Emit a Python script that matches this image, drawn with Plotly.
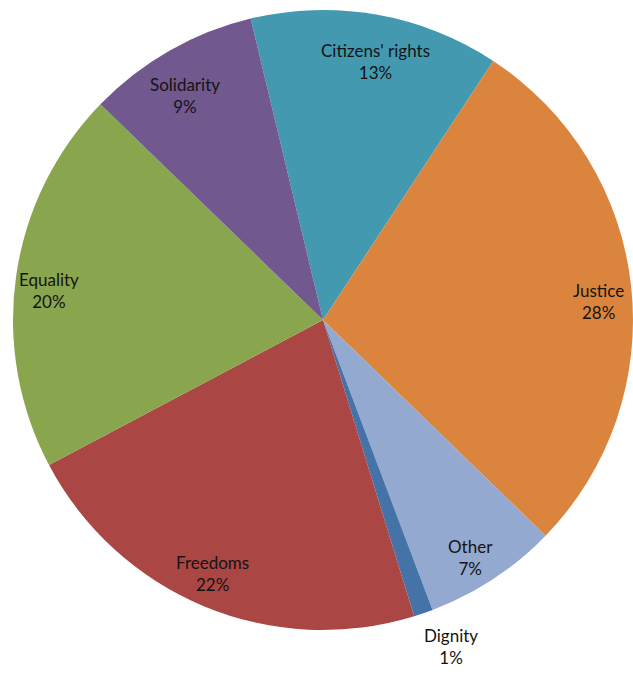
import math
import plotly.graph_objects as go

# Share of mentions per value category
categories = ["Citizens' rights", "Justice", "Other", "Dignity", "Freedoms", "Equality", "Solidarity"]
shares = [13, 28, 7, 1, 22, 20, 9]
colors = ["#4299B0", "#DB843D", "#93A9CF", "#4572A7", "#AA4643", "#89A54E", "#71588F"]

# Canvas and pie geometry (pixels)
W, H = 633, 677
CX, CY, R = 323, 320, 310
ROTATION = -13.5  # start angle of first slice, degrees clockwise from 12 o'clock

# Label distance from centre, as a fraction of the radius
label_radius = [0.85, 0.89, 0.90, 1.13, 0.89, 0.89, 0.85]
label_shift = [1.5, 2.5, 1.5, -2.5, 1.0, -2.0, -2.0]  # small angular nudges, degrees

fig = go.Figure(
    go.Pie(
        labels=categories,
        values=shares,
        sort=False,
        direction="clockwise",
        rotation=ROTATION,
        marker=dict(colors=colors, line=dict(width=0)),
        textinfo="none",
        hoverinfo="label+percent",
        showlegend=False,
        domain=dict(
            x=[(CX - R) / W, (CX + R) / W],
            y=[(H - CY - R) / H, (H - CY + R) / H],
        ),
    )
)

total = sum(shares)
start = ROTATION
annotations = []
for name, v, rf, shift in zip(categories, shares, label_radius, label_shift):
    sweep = 360.0 * v / total
    mid = math.radians(start + sweep / 2 + shift)
    start += sweep
    px = CX + rf * R * math.sin(mid)
    py = CY - rf * R * math.cos(mid)
    annotations.append(
        dict(
            x=px / W,
            y=1 - py / H,
            xref="paper",
            yref="paper",
            text=f"{name}<br>{round(100 * v / total)}%",
            showarrow=False,
            xanchor="center",
            yanchor="middle",
            font=dict(family="Lato, Calibri, sans-serif", size=17, color="#141414"),
            align="center",
        )
    )

fig.update_layout(
    width=W,
    height=H,
    margin=dict(l=0, r=0, t=0, b=0),
    paper_bgcolor="white",
    plot_bgcolor="white",
    annotations=annotations,
)

fig.write_html("out.html")
